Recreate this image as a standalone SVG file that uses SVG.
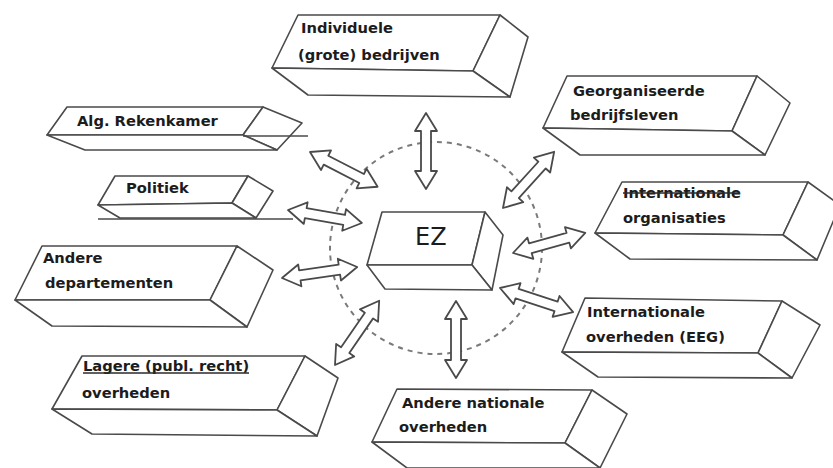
<svg xmlns="http://www.w3.org/2000/svg" width="833" height="468" viewBox="0 0 833 468">
<style>
  .f { fill: #ffffff; stroke: #4a4a4a; stroke-width: 1.6; stroke-linejoin: round; }
  .ln { fill: none; stroke: #4a4a4a; stroke-width: 1.6; }
  .mk { fill: none; stroke: #2a2a2a; stroke-width: 1.3; }
  .t { font-family: "DejaVu Sans", "Liberation Sans", sans-serif; font-weight: bold; font-size: 14.7px; fill: #1c1c1c; }
  .ez { font-family: "DejaVu Sans", "Liberation Sans", sans-serif; font-size: 24px; fill: #1c1c1c; }
  .ring { fill: none; stroke: #7a7a7a; stroke-width: 2; stroke-dasharray: 5 5; }
  .arr { fill: #ffffff; stroke: #4a4a4a; stroke-width: 1.8; stroke-linejoin: round; }
</style>
<rect width="833" height="468" fill="#ffffff"/>

<g id="ring">
  <circle class="ring" cx="436" cy="248" r="106"/>
</g>

<g id="ez">
  <polygon class="f" points="382,212 485,212 472,265 367,265"/>
  <polygon class="f" points="485,212 503,235 492,290 472,265"/>
  <polygon class="f" points="367,265 472,265 492,290 385,289"/>
  <text class="ez" x="415" y="245">EZ</text>
</g>

<g id="connectors">
  <polygon class="arr" transform="translate(426,113) rotate(90)" points="0,0 18,-11 18,-5 58,-5 58,-11 76,0 58,11 58,5 18,5 18,11"/>
  <polygon class="arr" transform="translate(310,152) rotate(27.2)" points="0,0 18,-11 18,-5 58,-5 58,-11 76,0 58,11 58,5 18,5 18,11"/>
  <polygon class="arr" transform="translate(503,208) rotate(-47.7)" points="0,0 18,-11 18,-5 58,-5 58,-11 76,0 58,11 58,5 18,5 18,11"/>
  <polygon class="arr" transform="translate(288,210) rotate(10)" points="0,0 18,-11 18,-5 57,-5 57,-11 75,0 57,11 57,5 18,5 18,11"/>
  <polygon class="arr" transform="translate(282,278) rotate(-8.3)" points="0,0 18,-11 18,-5 58,-5 58,-11 76,0 58,11 58,5 18,5 18,11"/>
  <polygon class="arr" transform="translate(335,365) rotate(-55.5)" points="0,0 18,-11 18,-5 60,-5 60,-11 78,0 60,11 60,5 18,5 18,11"/>
  <polygon class="arr" transform="translate(456,301) rotate(90)" points="0,0 18,-11 18,-5 59,-5 59,-11 77,0 59,11 59,5 18,5 18,11"/>
  <polygon class="arr" transform="translate(500,288) rotate(18.2)" points="0,0 18,-11 18,-5 59,-5 59,-11 77,0 59,11 59,5 18,5 18,11"/>
  <polygon class="arr" transform="translate(513,253) rotate(-15.5)" points="0,0 18,-11 18,-5 57,-5 57,-11 75,0 57,11 57,5 18,5 18,11"/>
</g>

<g id="individuele">
  <polygon class="f" points="298,15 500,15 473,71 272,68"/>
  <polygon class="f" points="500,15 528,37 510,97 473,71"/>
  <polygon class="f" points="272,68 473,71 510,97 308,95"/>
  <text class="t" x="301" y="33">Individuele</text>
  <text class="t" x="298" y="60">(grote) bedrijven</text>
</g>

<g id="georganiseerde">
  <polygon class="f" points="567,76 757,76 732,131 543,128"/>
  <polygon class="f" points="757,76 790,103 765,155 732,131"/>
  <polygon class="f" points="543,128 732,131 765,155 580,155"/>
  <text class="t" x="573" y="96">Georganiseerde</text>
  <text class="t" x="570" y="120">bedrijfsleven</text>
</g>

<g id="rekenkamer">
  <polygon class="f" points="67,107 263,107 243,135 47,135"/>
  <polygon class="f" points="263,107 302,123 277,150 243,135"/>
  <polygon class="f" points="47,135 243,135 277,150 85,150"/>
  <line class="ln" x1="243" y1="136" x2="308" y2="136"/>
  <text class="t" x="77" y="126">Alg. Rekenkamer</text>
</g>

<g id="politiek">
  <polygon class="f" points="115,176 248,176 232,203 98,205"/>
  <polygon class="f" points="248,176 273,191 256,218 232,203"/>
  <polygon class="f" points="98,205 232,203 256,218 120,218"/>
  <line class="ln" x1="98" y1="219" x2="293" y2="219"/>
  <text class="t" x="126" y="193">Politiek</text>
</g>

<g id="departementen">
  <polygon class="f" points="42,246 237,246 210,300 15,300"/>
  <polygon class="f" points="237,246 273,270 247,327 210,300"/>
  <polygon class="f" points="15,300 210,300 247,327 52,326"/>
  <text class="t" x="43" y="263">Andere</text>
  <text class="t" x="45" y="288">departementen</text>
</g>

<g id="int-organisaties">
  <polygon class="f" points="622,182 808,182 783,235 595,233"/>
  <polygon class="f" points="808,182 840,205 817,260 783,235"/>
  <polygon class="f" points="595,233 783,235 817,260 630,259"/>
  <text class="t" x="623" y="198">Internationale</text>
  <line class="mk" x1="623" y1="193" x2="740" y2="193"/>
  <text class="t" x="623" y="223">organisaties</text>
</g>

<g id="int-overheden">
  <polygon class="f" points="585,298 782,301 758,353 562,352"/>
  <polygon class="f" points="782,301 820,325 792,378 758,353"/>
  <polygon class="f" points="562,352 758,353 792,378 598,377"/>
  <text class="t" x="587" y="317">Internationale</text>
  <text class="t" x="586" y="342">overheden (EEG)</text>
</g>

<g id="lagere">
  <polygon class="f" points="82,356 305,356 277,410 52,409"/>
  <polygon class="f" points="305,356 338,378 317,436 277,410"/>
  <polygon class="f" points="52,409 277,410 317,436 92,434"/>
  <text class="t" x="83" y="371">Lagere (publ. recht)</text>
  <line class="mk" x1="83" y1="373" x2="249" y2="373"/>
  <text class="t" x="82" y="398">overheden</text>
</g>

<g id="andere-nationale">
  <polygon class="f" points="397,389 592,390 565,443 372,442"/>
  <polygon class="f" points="592,390 627,414 600,468 565,443"/>
  <polygon class="f" points="372,442 565,443 600,468 407,468"/>
  <text class="t" x="402" y="408">Andere nationale</text>
  <text class="t" x="399" y="432">overheden</text>
</g>
</svg>
